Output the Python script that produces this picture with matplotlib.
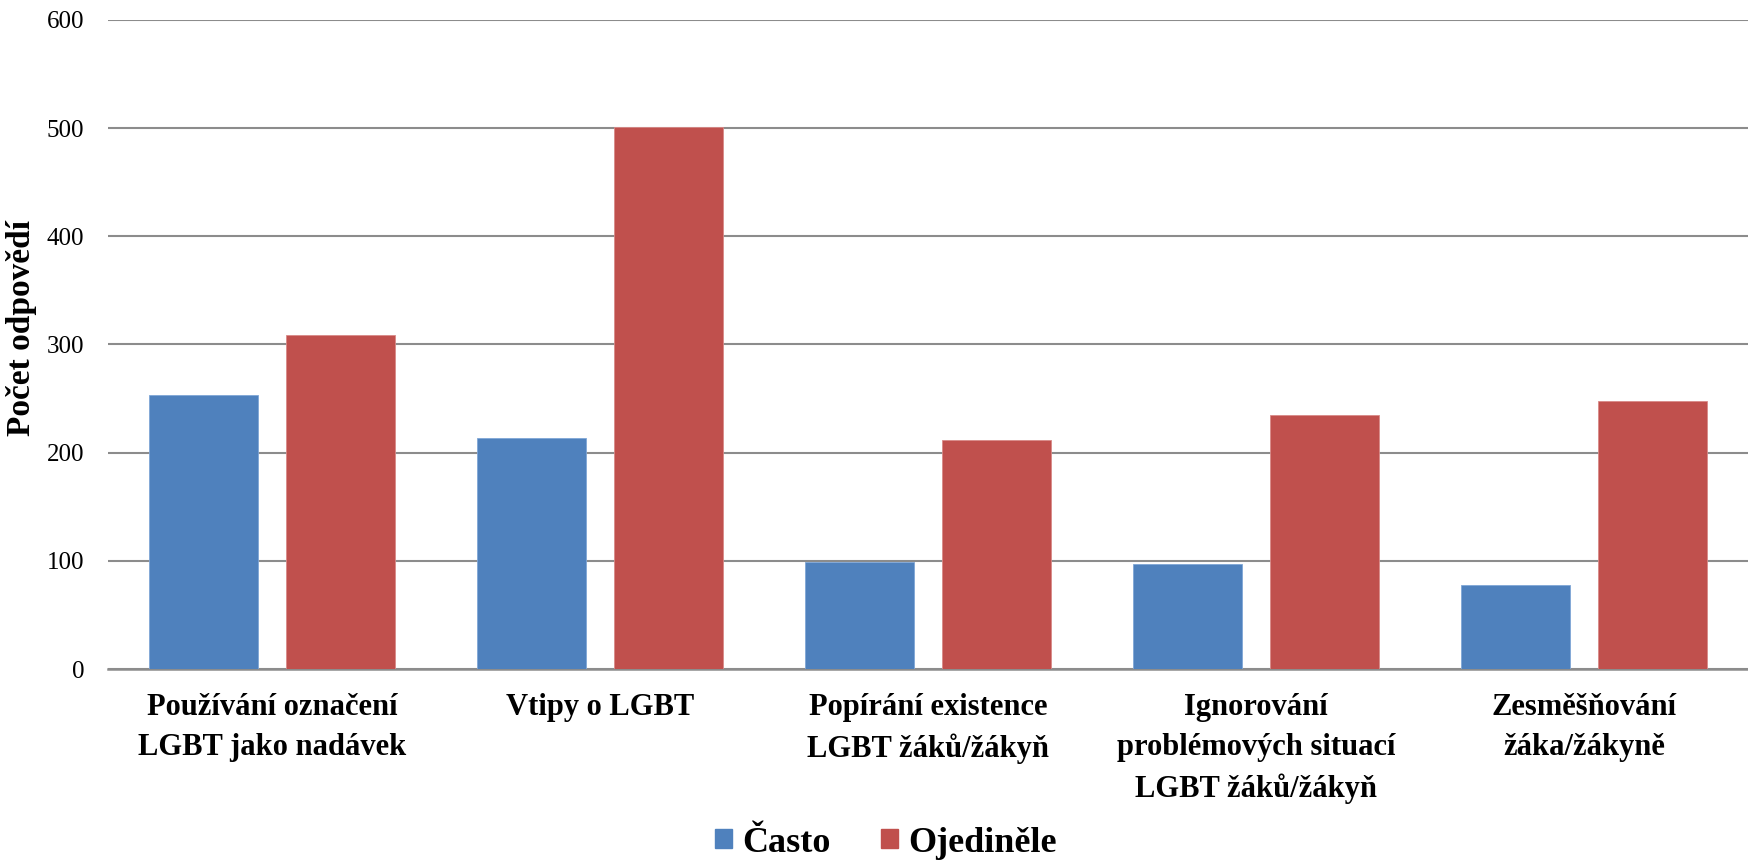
import matplotlib
matplotlib.use("Agg")
import matplotlib.pyplot as plt
import numpy as np
from matplotlib.patches import Patch

categories = [
    "Používání označení\nLGBT jako nadávek",
    "Vtipy o LGBT",
    "Popírání existence\nLGBT žáků/žákyň",
    "Ignorování\nproblémových situací\nLGBT žáků/žákyň",
    "Zesměšňování\nžáka/žákyně",
]
casto = [253, 214, 99, 97, 78]
ojedinele = [309, 501, 212, 235, 248]
series_names = ["Často", "Ojediněle"]
yticks = [0, 100, 200, 300, 400, 500, 600]

BLUE = "#4F81BD"
RED = "#C0504D"
GRID = "#8C8C8C"
FONT = ["Liberation Serif", "DejaVu Serif"]

plt.rcParams["font.family"] = FONT

fig = plt.figure(figsize=(17.48, 8.60), dpi=100)
ax = fig.add_axes([108 / 1748, 1 - 669 / 860, 1 - 108 / 1748, (669 - 20) / 860])

x = np.arange(len(categories))
w = 1 / 3
off = 0.625 * w
ax.bar(x - off, casto, width=w, color=BLUE, edgecolor="#7FA6D6", linewidth=0.6, zorder=3)
ax.bar(x + off, ojedinele, width=w, color=RED, edgecolor="#D98A88", linewidth=0.6, zorder=3)

ax.set_xlim(-0.5, len(categories) - 0.5)
ax.set_ylim(0, 600)
ax.set_yticks(yticks)
ax.set_yticklabels([str(v) for v in yticks], fontsize=18)
ax.yaxis.grid(True, color=GRID, linewidth=1.5, zorder=0)
ax.set_axisbelow(True)
for s in ["top", "right", "left"]:
    ax.spines[s].set_visible(False)
ax.spines["bottom"].set_color(GRID)
ax.spines["bottom"].set_linewidth(1.8)
ax.tick_params(axis="y", length=0, pad=17)
ax.tick_params(axis="x", length=0, pad=17)
ax.set_xticks(x)
ax.set_xticklabels(categories, fontsize=22, fontweight="bold")
for t in ax.get_xticklabels():
    t.set_linespacing(1.5)
    t.set_verticalalignment("top")

ylab = ax.set_ylabel("Počet odpovědí", fontsize=24, fontweight="bold")
ylab.set_verticalalignment("center")
ax.yaxis.set_label_coords(-(108 - 22) / 1640, 0.525)

handles = [Patch(facecolor=BLUE, edgecolor=BLUE), Patch(facecolor=RED, edgecolor=RED)]
fig.legend(handles, series_names, loc="center", bbox_to_anchor=(0.507, 1 - 843 / 860),
           ncol=2, frameon=False, prop={"family": FONT, "weight": "bold", "size": 26},
           handlelength=0.45, handleheight=0.45, handletextpad=0.3, columnspacing=1.4)

fig.savefig("out.png", dpi=100)
